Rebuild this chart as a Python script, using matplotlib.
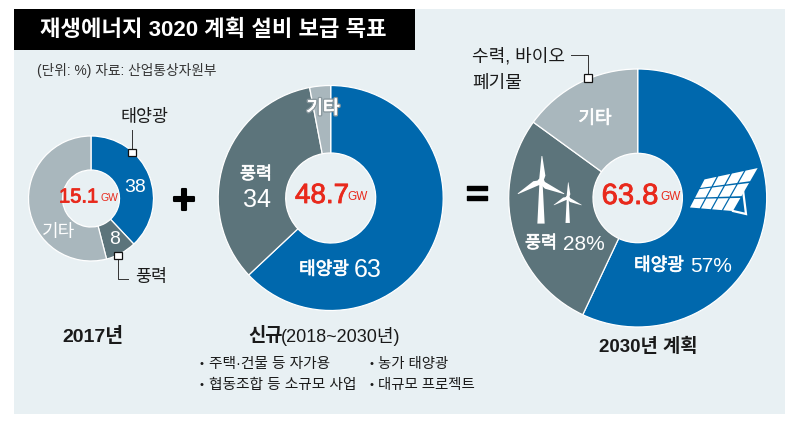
import matplotlib
matplotlib.use("Agg")
import matplotlib.pyplot as plt
import matplotlib.patheffects as pe
from matplotlib.patches import Polygon, Rectangle, Circle
from matplotlib.transforms import Affine2D

plt.rcParams["font.family"] = ["Liberation Sans", "Noto Sans CJK KR"]

BG = "#e8f0f3"
BLUE = "#0068ad"
SLATE = "#5c747b"
GRAY = "#a9b7bd"
RED = "#e8291c"
INK = "#1a1a1a"
H = 424

# shares per chart: solar, wind, other
values_2017 = [38, 8, 54]
values_new = [63, 34, 3]
values_2030 = [57, 28, 15]
totals = ["15.1", "48.7", "63.8"]
captions = ["2017년", "2030년 계획"]
bullets_left = ["주택·건물 등 자가용", "협동조합 등 소규모 사업"]
bullets_right = ["농가 태양광", "대규모 프로젝트"]


def txt(ax, x, y, s, size, color=INK, ha="center", weight="normal", **kw):
    return ax.text(x, H - y, s, fontsize=size, color=color, ha=ha, va="center",
                   fontweight=weight, **kw)


def label(ax, x, y, s, size):
    # semi-bold look for the white labels inside the rings
    t = txt(ax, x, y, s, size, "white")
    t.set_path_effects([pe.withStroke(linewidth=0.5, foreground="white")])
    return t


def donut(ax, values, cx, cy, radius, hole):
    ax.pie(values, colors=[BLUE, SLATE, GRAY], startangle=90, counterclock=False,
           center=(cx, H - cy), radius=radius, frame=False,
           wedgeprops=dict(width=radius - hole, edgecolor="white", linewidth=0.9))


def total(ax, x, y, value, unit_x, size, unit_size):
    big = txt(ax, x, y, value, size, RED)
    big.set_path_effects([pe.withStroke(linewidth=0.6, foreground=RED)])
    txt(ax, unit_x, y + 1, "GW", unit_size, RED)


def node(ax, x, y):
    ax.add_patch(Rectangle((x - 3.7, H - y - 3.7), 7.4, 7.4, facecolor="white",
                           edgecolor="#111111", linewidth=0.9, zorder=6))


def leader(ax, xs, ys):
    ax.plot(xs, [H - v for v in ys], color="#333333", linewidth=0.7, zorder=5)


def turbine(ax, x, hub_y, scale):
    # tower and three blades, sizes relative to the large turbine
    base = H - hub_y
    ax.add_patch(Polygon([(x - 1.2 * scale, base), (x + 1.2 * scale, base),
                          (x + 2.8 * scale, base - 32 * scale), (x - 2.8 * scale, base - 32 * scale)],
                         facecolor="white", edgecolor="none", zorder=4))
    for angle in (88, -27, 207):
        blade = Polygon([(0, -1.6 * scale), (5 * scale, -3.2 * scale), (20 * scale, -0.3 * scale),
                         (20 * scale, 0.3 * scale), (0, 1.6 * scale)],
                        facecolor="white", edgecolor="none", zorder=4)
        blade.set_transform(Affine2D().rotate_deg(angle).translate(x, base) + ax.transData)
        ax.add_patch(blade)
    ax.add_patch(Circle((x, base), 2.8 * scale, facecolor="white", edgecolor="none", zorder=4))


def solar_panel(ax):
    # corners in picture pixels: bottom-left, bottom-right, top-right, top-left
    bl, br, tr, tl = (689, 208), (733, 212), (759, 167), (704, 179)
    ax.plot([743, 746, 733], [H - 190, H - 214, H - 211], color="white", linewidth=1.6, zorder=4,
            solid_joinstyle="miter")
    rows, cols = 3, 4
    for r in range(rows):
        for c in range(cols):
            cell = []
            for u, v in [(c + .06, r + .06), (c + .94, r + .06), (c + .94, r + .94), (c + .06, r + .94)]:
                u, v = u / cols, v / rows
                px = (1 - v) * ((1 - u) * bl[0] + u * br[0]) + v * ((1 - u) * tl[0] + u * tr[0])
                py = (1 - v) * ((1 - u) * bl[1] + u * br[1]) + v * ((1 - u) * tl[1] + u * tr[1])
                cell.append((px, H - py))
            ax.add_patch(Polygon(cell, facecolor="white", edgecolor="none", zorder=4))


def main():
    fig = plt.figure(figsize=(8, 4.24), dpi=100, facecolor="white")
    ax = fig.add_axes([0, 0, 1, 1])
    ax.set_xlim(0, 800)
    ax.set_ylim(0, H)
    ax.set_aspect("equal")
    ax.axis("off")

    ax.add_patch(Rectangle((14, H - 414), 771, 405, facecolor=BG, edgecolor="none", zorder=0))
    ax.add_patch(Rectangle((14, H - 50), 401, 41, facecolor="black", edgecolor="none", zorder=1))
    txt(ax, 40, 30, "재생에너지 3020 계획 설비 보급 목표", 16, "white", ha="left", weight="bold")
    txt(ax, 37, 70, "(단위: %) 자료: 산업통상자원부", 9.9, "#333333", ha="left")

    donut(ax, values_2017, 91, 198.5, 62.5, 28.5)
    donut(ax, values_new, 330.7, 198, 112.5, 45)
    donut(ax, values_2030, 637.7, 198, 129, 44.7)
    ax.set_xlim(0, 800)
    ax.set_ylim(0, H)

    # first donut
    total(ax, 78.5, 197, totals[0], 109, 14.5, 7.5)
    txt(ax, 135, 187, str(values_2017[0]), 14, "white")
    txt(ax, 115, 240, str(values_2017[1]), 14, "white")
    txt(ax, 59, 232, "기타", 13, "white")
    txt(ax, 144, 117, "태양광", 12.5)
    txt(ax, 151, 277, "풍력", 12.5)
    leader(ax, [132, 132], [130, 152])
    leader(ax, [118, 118, 128], [255, 279, 279])
    node(ax, 132, 152.5)
    node(ax, 118, 255.5)

    sign = txt(ax, 184, 202, "+", 30, "black", weight="bold")
    sign.set_path_effects([pe.withStroke(linewidth=1.5, foreground="black")])
    sign = txt(ax, 477, 196, "=", 28, "black", weight="bold")
    sign.set_path_effects([pe.withStroke(linewidth=1.0, foreground="black")])

    # second donut
    total(ax, 322, 196, totals[1], 358, 20, 8.5)
    other = txt(ax, 323, 109, "기타", 13, "white")
    other.set_path_effects([pe.withStroke(linewidth=2.4, foreground="#8a989e"),
                            pe.withStroke(linewidth=0.5, foreground="white")])
    label(ax, 256, 174, "풍력", 12.5)
    txt(ax, 257, 200, str(values_new[1]), 18, "white")
    label(ax, 324, 270, "태양광", 13)
    txt(ax, 368, 270, str(values_new[0]), 18, "white")

    # third donut
    total(ax, 630, 196, totals[2], 671, 21, 8.5)
    label(ax, 595, 119, "기타", 13)
    label(ax, 541, 243, "풍력", 12.5)
    txt(ax, 584, 244, f"{values_2030[1]}%", 15, "white")
    label(ax, 659, 266, "태양광", 13)
    txt(ax, 711, 267, f"{values_2030[0]}%", 15, "white")
    turbine(ax, 541, 182, 1.3)
    turbine(ax, 567.7, 198, 0.78)
    solar_panel(ax)

    txt(ax, 472, 57, "수력, 바이오", 13, ha="left")
    txt(ax, 472, 83, "폐기물", 13, ha="left")
    leader(ax, [571, 588, 588], [55, 55, 78])
    node(ax, 588, 78)

    # captions
    txt(ax, 93, 336, captions[0], 14, weight="bold")
    ax.text(248, H - 336, "신규", fontsize=13.5, fontweight="bold", color=INK, ha="left", va="center")
    ax.text(281, H - 336, "(2018~2030년)", fontsize=13, color=INK, ha="left", va="center")
    txt(ax, 648, 347, captions[1], 13.5, weight="bold")

    for i, (a, b) in enumerate(zip(bullets_left, bullets_right)):
        y = 364 + i * 21
        txt(ax, 202, y, "•", 8)
        txt(ax, 209, y, a, 10.6, ha="left")
        txt(ax, 371, y, "•", 8)
        txt(ax, 378, y, b, 10.4, ha="left")

    fig.savefig("out.png", dpi=100, facecolor="white")
    plt.close(fig)


if __name__ == "__main__":
    main()
